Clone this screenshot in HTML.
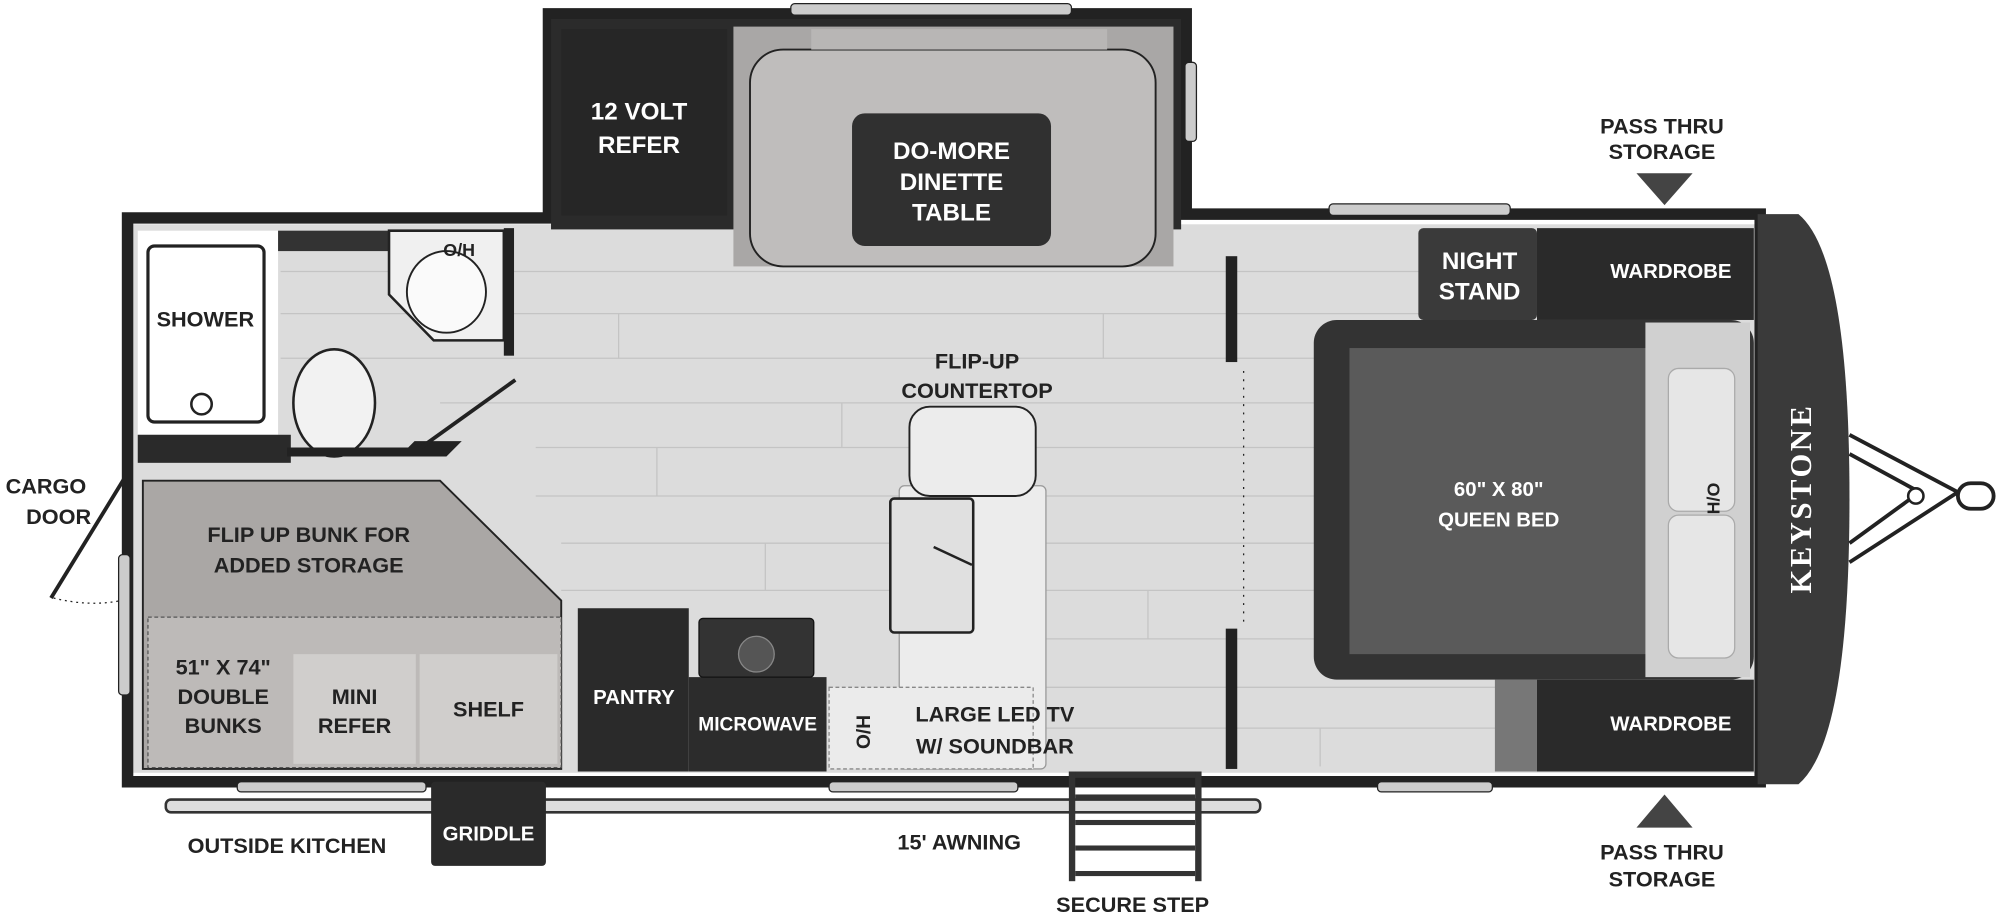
<!DOCTYPE html>
<html><head><meta charset="utf-8"><style>
html,body{margin:0;padding:0;background:#fff}
svg{display:block}
text{font-family:"Liberation Sans",sans-serif;font-weight:bold;text-anchor:middle}
text.serif{font-family:"Liberation Serif",serif}
</style></head><body>
<svg width="2000" height="918" viewBox="0 0 1568 718" xmlns="http://www.w3.org/2000/svg">
<rect width="1568" height="718" fill="#fff"/>
<!-- floor -->
<rect x="104" y="175" width="1275" height="430" fill="#dcdcdc"/>
<g stroke="#c4c4c4" stroke-width="1">
<line x1="220" y1="212" x2="1375" y2="212"/><line x1="220" y1="245" x2="1375" y2="245"/>
<line x1="220" y1="280" x2="1375" y2="280"/><line x1="345" y1="315" x2="1375" y2="315"/>
<line x1="420" y1="350" x2="1375" y2="350"/><line x1="420" y1="388" x2="1375" y2="388"/>
<line x1="440" y1="425" x2="1375" y2="425"/><line x1="440" y1="462" x2="1375" y2="462"/>
<line x1="820" y1="500" x2="1375" y2="500"/><line x1="820" y1="538" x2="1375" y2="538"/>
<line x1="820" y1="570" x2="1375" y2="570"/>
<line x1="485" y1="245" x2="485" y2="280"/><line x1="660" y1="315" x2="660" y2="350"/>
<line x1="515" y1="350" x2="515" y2="388"/><line x1="865" y1="245" x2="865" y2="280"/>
<line x1="600" y1="425" x2="600" y2="462"/><line x1="900" y1="462" x2="900" y2="500"/>
<line x1="1035" y1="570" x2="1035" y2="600"/>
</g>
<!-- bathroom -->
<rect x="108" y="180" width="110" height="160" fill="#fff"/>
<rect x="116" y="192" width="91" height="138" rx="5" fill="#fff" stroke="#222" stroke-width="2.5"/>
<circle cx="158" cy="316" r="8" fill="#fff" stroke="#222" stroke-width="2"/>
<rect x="218" y="180" width="90" height="16" fill="#333"/>
<path d="M305 180 L395 180 L395 266 L340 266 L305 230 Z" fill="#f0f0f0" stroke="#222" stroke-width="2"/>
<ellipse cx="350" cy="228" rx="31" ry="32" fill="#fafafa" stroke="#222" stroke-width="1.5"/>
<rect x="395" y="178" width="8" height="100" fill="#222"/>
<ellipse cx="262" cy="315" rx="32" ry="42" fill="#f2f2f2" stroke="#222" stroke-width="2"/>
<rect x="108" y="340" width="120" height="22" fill="#2a2a2a"/>
<path d="M108 357 L350 357 L362 345 L325 345 L320 350 L225 350 L225 357 Z" fill="#222"/>
<line x1="330" y1="350" x2="404" y2="297" stroke="#222" stroke-width="3"/>
<!-- bunk -->
<path d="M112 376 L345 376 L440 470 L440 602 L112 602 Z" fill="#aaa7a5" stroke="#222" stroke-width="1.5"/>
<rect x="116" y="483" width="324" height="118" fill="#bdbab8" stroke="#555" stroke-dasharray="3 2"/>
<rect x="230" y="512" width="96" height="86" fill="#d0cecc"/>
<rect x="329" y="512" width="108" height="86" fill="#d0cecc"/>
<!-- walls -->
<path d="M100 170 L430 170 L430 10 L930 10 L930 167 L1380 167 L1380 612 L100 612 Z" fill="none" stroke="#222" stroke-width="9"/>
<!-- slide out -->
<rect x="432" y="14" width="494" height="165" fill="#2b2b2b"/>
<rect x="440" y="22" width="130" height="146" fill="#262626"/>
<rect x="575" y="20" width="345" height="188" fill="#a9a7a6"/>
<rect x="588" y="38" width="318" height="170" rx="26" fill="#bfbdbc" stroke="#222" stroke-width="1.5"/>
<rect x="636" y="22" width="232" height="16" fill="#b8b6b5"/>
<rect x="668" y="88" width="156" height="104" rx="10" fill="#303030"/>
<rect x="620" y="2" width="220" height="9" rx="3" fill="#ccc" stroke="#222"/>
<rect x="929" y="48" width="9" height="62" rx="3" fill="#ccc" stroke="#222"/>
<rect x="1042" y="159" width="142" height="9" rx="3" fill="#ccc" stroke="#222"/>
<rect x="93" y="434" width="9" height="110" rx="3" fill="#ccc" stroke="#222"/>
<!-- kitchen -->
<rect x="453" y="476" width="87" height="128" fill="#2a2a2a"/>
<rect x="540" y="530" width="108" height="74" fill="#2c2c2c"/>
<rect x="548" y="484" width="90" height="46" rx="3" fill="#333" stroke="#111"/>
<circle cx="593" cy="512" r="14" fill="#555" stroke="#888"/>
<rect x="705" y="380" width="115" height="222" rx="4" fill="#ececec" stroke="#999"/>
<rect x="650" y="538" width="160" height="64" fill="#ebebeb" stroke="#888" stroke-dasharray="3 2"/>
<rect x="713" y="318" width="99" height="70" rx="16" fill="#ececec" stroke="#222" stroke-width="1.5"/>
<rect x="698" y="390" width="65" height="105" rx="3" fill="#e0e0e0" stroke="#222" stroke-width="2"/>
<line x1="732" y1="428" x2="762" y2="442" stroke="#222" stroke-width="2"/>
<!-- bedroom divider -->
<rect x="961" y="200" width="9" height="83" fill="#222"/>
<rect x="961" y="492" width="9" height="110" fill="#222"/>
<line x1="975" y1="290" x2="975" y2="490" stroke="#222" stroke-dasharray="1.5 5"/>
<rect x="1112" y="178" width="93" height="72" rx="4" fill="#3a3a3a"/>
<rect x="1205" y="178" width="170" height="72" fill="#2a2a2a"/>
<rect x="1205" y="532" width="170" height="72" fill="#2a2a2a"/>
<rect x="1172" y="532" width="33" height="72" fill="#777"/>
<rect x="1030" y="250" width="345" height="282" rx="18" fill="#333"/>
<rect x="1058" y="272" width="240" height="240" fill="#5a5a5a"/>
<rect x="1290" y="252" width="82" height="278" fill="#d0d0d0"/>
<rect x="1308" y="288" width="52" height="112" rx="8" fill="#e6e6e6" stroke="#aaa"/>
<rect x="1308" y="403" width="52" height="112" rx="8" fill="#e6e6e6" stroke="#aaa"/>
<!-- front cap -->
<path d="M1378 167 L1410 167 Q1450 200 1450 390 Q1450 580 1410 614 L1378 614 Z" fill="#3a3a3a"/>
<path d="M1450 340 L1535 385 L1450 440 M1450 355 L1505 385 L1450 425" fill="none" stroke="#222" stroke-width="3"/>
<circle cx="1502" cy="388" r="6" fill="#fff" stroke="#222" stroke-width="2"/>
<rect x="1535" y="378" width="28" height="20" rx="10" fill="#fff" stroke="#222" stroke-width="3"/>
<!-- exterior -->
<rect x="130" y="626" width="858" height="10" rx="4" fill="#ddd" stroke="#333" stroke-width="2"/>
<rect x="186" y="612" width="148" height="8" rx="3" fill="#ccc" stroke="#222"/>
<rect x="650" y="612" width="148" height="8" rx="3" fill="#ccc" stroke="#222"/>
<rect x="1080" y="612" width="90" height="8" rx="3" fill="#ccc" stroke="#222"/>
<rect x="338" y="612" width="90" height="66" rx="3" fill="#2a2a2a"/>
<g fill="#333"><rect x="838" y="604" width="104" height="5"/><rect x="838" y="604" width="5" height="86"/><rect x="937" y="604" width="5" height="86"/>
<rect x="843" y="622" width="94" height="4"/><rect x="843" y="642" width="94" height="4"/><rect x="843" y="662" width="94" height="4"/><rect x="843" y="682" width="94" height="4"/></g>
<path d="M97 375 L40 468" stroke="#222" stroke-width="3"/>
<path d="M42 468 Q70 475 95 470" fill="none" stroke="#222" stroke-dasharray="1.5 3"/>
<polygon points="1283,135 1327,135 1305,160" fill="#444"/>
<polygon points="1283,648 1327,648 1305,622" fill="#444"/>
<!-- labels -->
<g font-size="19" fill="#fff">
<text x="501" y="93">12 VOLT</text><text x="501" y="119">REFER</text>
<text x="746" y="124">DO-MORE</text><text x="746" y="148">DINETTE</text><text x="746" y="172">TABLE</text>
<text x="497" y="551" font-size="16">PANTRY</text>
<text x="594" y="572" font-size="15">MICROWAVE</text>
<text x="1160" y="210">NIGHT</text><text x="1160" y="234">STAND</text>
<text x="1310" y="217" font-size="16">WARDROBE</text>
<text x="1310" y="572" font-size="16">WARDROBE</text>
<text x="1175" y="388" font-size="16">60" X 80"</text><text x="1175" y="412" font-size="16">QUEEN BED</text>
<text x="383" y="658" font-size="16">GRIDDLE</text>
<text class="serif" transform="translate(1420 390) rotate(-90)" font-size="24" letter-spacing="2">KEYSTONE</text>
</g>
<g font-size="17" fill="#222">
<text x="161" y="255">SHOWER</text>
<text x="360" y="200" font-size="14">O/H</text>
<text x="36" y="386">CARGO</text><text x="46" y="410">DOOR</text>
<text x="242" y="424">FLIP UP BUNK FOR</text><text x="242" y="448">ADDED STORAGE</text>
<text x="175" y="528">51" X 74"</text><text x="175" y="551">DOUBLE</text><text x="175" y="574">BUNKS</text>
<text x="278" y="551">MINI</text><text x="278" y="574">REFER</text>
<text x="383" y="561">SHELF</text>
<text x="766" y="288">FLIP-UP</text><text x="766" y="311">COUNTERTOP</text>
<text x="780" y="565">LARGE LED TV</text><text x="780" y="590">W/ SOUNDBAR</text>
<text transform="translate(682 573) rotate(-90)" font-size="15">O/H</text>
<text transform="translate(1348 390) rotate(-90)" font-size="14">H/O</text>
<text x="1303" y="104">PASS THRU</text><text x="1303" y="124">STORAGE</text>
<text x="1303" y="673">PASS THRU</text><text x="1303" y="694">STORAGE</text>
<text x="225" y="668">OUTSIDE KITCHEN</text>
<text x="752" y="665">15' AWNING</text>
<text x="888" y="714">SECURE STEP</text>
</g>
</svg>
</body></html>
